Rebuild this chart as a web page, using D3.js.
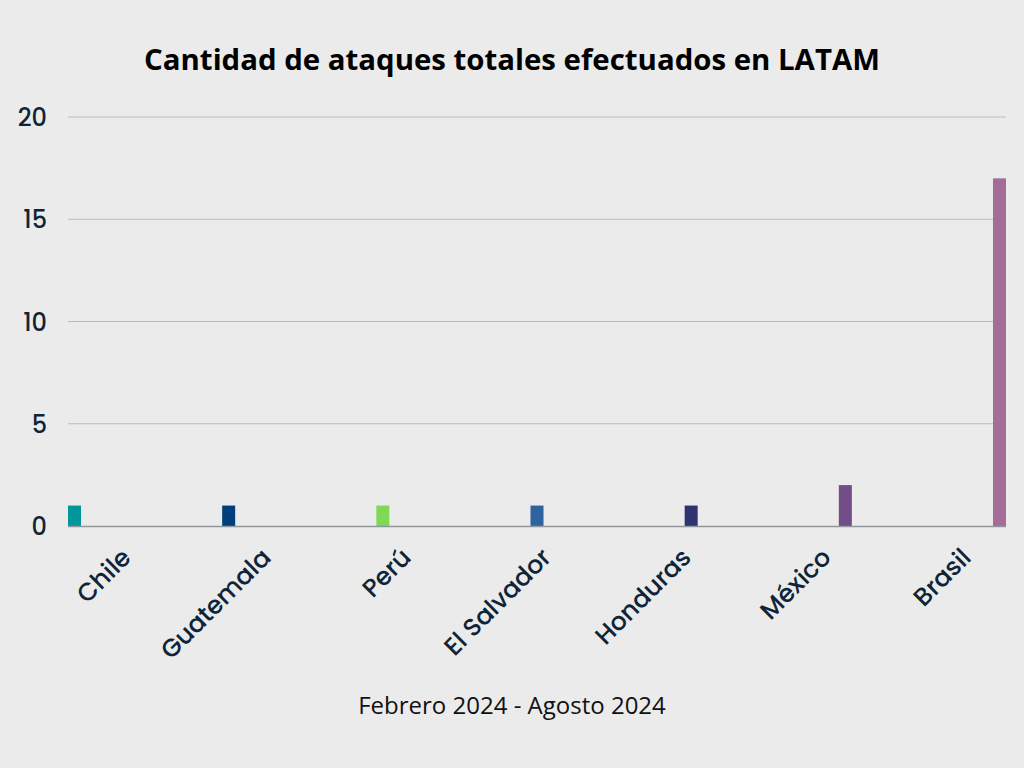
<!DOCTYPE html>
<html>
<head>
<meta charset="utf-8">
<script src="https://cdn.jsdelivr.net/npm/d3@7"></script>
<style>
  html, body { margin: 0; padding: 0; background: #ebebeb; }
  svg { display: block; }
</style>
</head>
<body>
<svg id="chart" width="1024" height="768"></svg>
<script>
const countries = ['Chile', 'Guatemala', 'Perú', 'El Salvador', 'Honduras', 'México', 'Brasil'];
const attacks = [1, 1, 1, 1, 1, 2, 17];
const barColors = ['#00979a', '#003f7a', '#7ed957', '#2e63a0', '#2f3470', '#724d88', '#a56c97'];
const yTicks = [0, 5, 10, 15, 20];

const titleText = 'Cantidad de ataques totales efectuados en LATAM';
const subtitleText = 'Febrero 2024 - Agosto 2024';

const bgColor = '#ebebeb';
const gridColor = '#b9bcbf';
const baseColor = '#8f969c';
const labelColor = '#0f2537';
const tickFont = 'Poppins, Inter, "Noto Sans", sans-serif';

const svg = d3.select('#chart');
svg.append('rect').attr('width', 1024).attr('height', 768).attr('fill', bgColor);

const plotLeft = 68, plotRight = 1006, plotTop = 117, plotBottom = 526;

// grupos (una banda por país) y dentro, una ranura por serie
const x0 = d3.scaleBand().domain(countries).range([plotLeft, plotRight]).padding(0);
const x1 = d3.scaleBand().domain(countries).range([0, x0.bandwidth()])
  .paddingInner(0.355).paddingOuter(0);
const y = d3.scaleLinear().domain([0, 20]).range([plotBottom, plotTop]);

// posición de etiquetas del eje x
const xLabel = d3.scalePoint().domain(countries).range([132, 972]);

// grid
svg.append('g')
  .selectAll('line')
  .data(yTicks.filter(d => d > 0))
  .join('line')
  .attr('x1', plotLeft).attr('x2', plotRight)
  .attr('y1', d => y(d)).attr('y2', d => y(d))
  .attr('stroke', gridColor)
  .attr('stroke-width', 1);

// eje y
const yAxis = svg.append('g')
  .attr('transform', `translate(${plotLeft},0)`)
  .call(d3.axisLeft(y).tickValues(yTicks).tickSize(0).tickPadding(21));
yAxis.select('.domain').remove();
yAxis.selectAll('text')
  .style('font-family', tickFont)
  .style('font-size', '24px')
  .style('font-weight', 500)
  .attr('fill', labelColor)
  .attr('dy', '0.36em');

// barras
svg.append('g')
  .selectAll('rect')
  .data(countries)
  .join('rect')
  .attr('x', d => x0(d) + x1(d))
  .attr('y', (d, i) => y(attacks[i]))
  .attr('width', x1.bandwidth())
  .attr('height', (d, i) => y(0) - y(attacks[i]))
  .attr('fill', (d, i) => barColors[i]);

// línea base
svg.append('line')
  .attr('x1', plotLeft).attr('x2', plotRight)
  .attr('y1', y(0) + 0.5).attr('y2', y(0) + 0.5)
  .attr('stroke', baseColor)
  .attr('stroke-width', 1.6);

// eje x
const xAxis = svg.append('g')
  .attr('transform', `translate(0,${plotBottom})`)
  .call(d3.axisBottom(xLabel).tickSize(0));
xAxis.select('.domain').remove();
xAxis.selectAll('text')
  .attr('x', 0).attr('y', 0).attr('dy', 0)
  .attr('transform', 'translate(0,33) rotate(-45)')
  .attr('text-anchor', 'end')
  .style('font-family', tickFont)
  .style('font-size', '25px')
  .style('font-weight', 500)
  .attr('fill', labelColor);

// título
svg.append('text')
  .attr('x', 512).attr('y', 70)
  .attr('text-anchor', 'middle')
  .style('font-family', '"Open Sans", sans-serif')
  .style('font-size', '29.4px')
  .style('font-weight', 'bold')
  .attr('fill', '#000')
  .text(titleText);

// subtítulo
svg.append('text')
  .attr('x', 512).attr('y', 714)
  .attr('text-anchor', 'middle')
  .style('font-family', '"Open Sans", sans-serif')
  .style('font-size', '24px')
  .attr('fill', '#111')
  .text(subtitleText);
</script>
</body>
</html>
